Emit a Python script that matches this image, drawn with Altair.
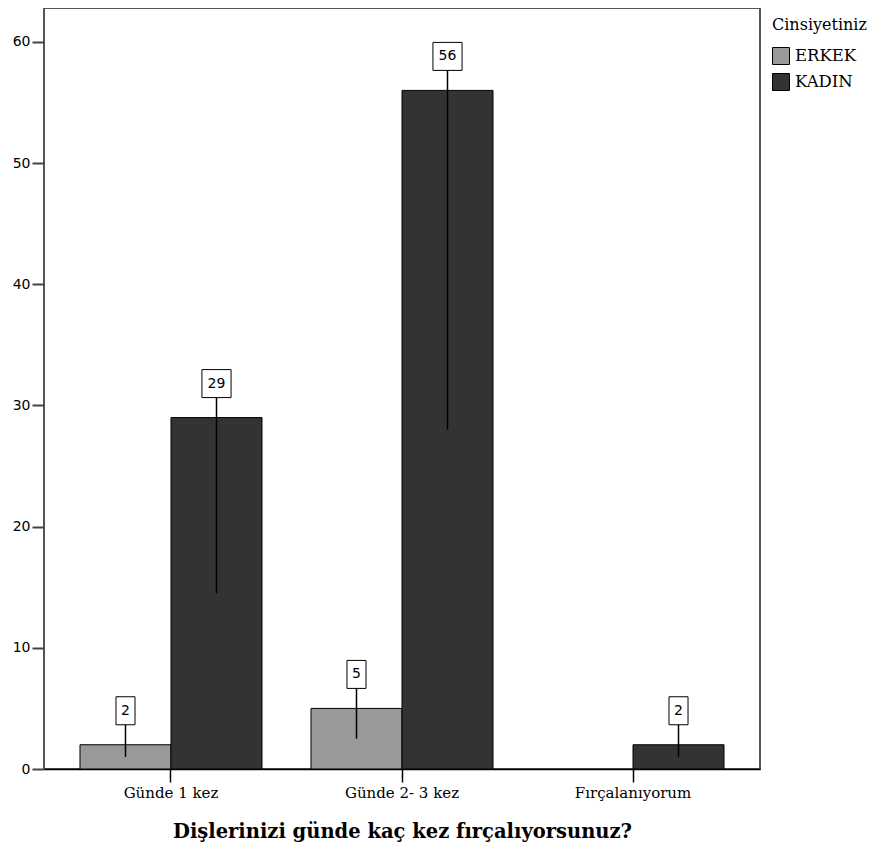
import altair as alt
import pandas as pd

categories = ["Günde 1 kez", "Günde 2- 3 kez", "Fırçalanıyorum"]
genders = ["ERKEK", "KADIN"]
erkek_values = [2, 5, None]
kadin_values = [29, 56, 2]
colors = ["#999999", "#333333"]
y_ticks = [0, 10, 20, 30, 40, 50, 60]

rows = []
for cat, e, k in zip(categories, erkek_values, kadin_values):
    for g, v in zip(genders, [e, k]):
        if v is not None:
            rows.append({"cat": cat, "gender": g, "value": v})
df = pd.DataFrame(rows)
df["half"] = df["value"] / 2
df["digits"] = df["value"].astype(int).astype(str).str.len().astype(str)

box1 = "M-0.68,-1L0.68,-1L0.68,1L-0.68,1Z"
box2 = "M-1.04,-1L1.04,-1L1.04,1L-1.04,1Z"
LABEL_OFF = -34

x = alt.X(
    "cat:N",
    sort=categories,
    scale=alt.Scale(paddingInner=0.2121, paddingOuter=0.1558),
    axis=alt.Axis(
        title="Dişlerinizi günde kaç kez fırçalıyorsunuz?",
        labelAngle=0,
        labelFont="DejaVu Serif",
        labelFontSize=15,
        labelColor="black",
        labelPadding=3,
        tickSize=13,
        tickColor="black",
        tickWidth=1.5,
        domainColor="black",
        domainWidth=1.5,
        titleFont="DejaVu Serif",
        titleFontSize=19.5,
        titleFontWeight="bold",
        titleColor="black",
        titlePadding=22,
    ),
)
xoff = alt.XOffset(
    "gender:N",
    sort=genders,
    scale=alt.Scale(domain=genders, paddingInner=0, paddingOuter=0),
)
y = alt.Y(
    "value:Q",
    scale=alt.Scale(domain=[0, 62.8], nice=False),
    axis=alt.Axis(
        title=None,
        values=y_ticks,
        grid=False,
        domain=False,
        labelFont="DejaVu Sans",
        labelFontSize=14,
        labelColor="black",
        labelPadding=2,
        tickSize=12,
        tickColor="#444444",
        tickWidth=2,
    ),
)

base = alt.Chart(df)

bars = base.mark_bar(stroke="black", strokeWidth=1).encode(
    x=x,
    xOffset=xoff,
    y=y,
    color=alt.Color(
        "gender:N",
        scale=alt.Scale(domain=genders, range=colors),
        legend=alt.Legend(
            title="Cinsiyetiniz",
            orient="none",
            legendX=728,
            legendY=9,
            titleFont="DejaVu Serif",
            titleFontSize=16,
            titleFontWeight="normal",
            titleColor="black",
            titlePadding=14,
            labelFont="DejaVu Serif",
            labelFontSize=16.5,
            labelColor="black",
            labelOffset=5,
            symbolType="square",
            symbolSize=289,
            symbolStrokeColor="black",
            symbolStrokeWidth=1,
            symbolOpacity=1,
            rowPadding=4,
            padding=0,
        ),
    ),
)

rules = base.mark_rule(color="black", strokeWidth=1.5, yOffset=LABEL_OFF).encode(
    x=x, xOffset=xoff, y=y, y2="half:Q"
)

boxes = base.mark_point(
    filled=True, fill="white", stroke="black", strokeWidth=1, opacity=1,
    size=784, yOffset=LABEL_OFF,
).encode(
    x=x,
    xOffset=xoff,
    y=y,
    shape=alt.Shape("digits:N", scale=alt.Scale(domain=["1", "2"], range=[box1, box2]), legend=None),
)

texts = base.mark_text(
    font="DejaVu Sans", fontSize=14, color="black", baseline="middle", align="center",
    yOffset=LABEL_OFF,
).encode(x=x, xOffset=xoff, y=y, text="value:Q")

chart = (
    alt.layer(bars, rules, boxes, texts)
    .properties(
        width=716,
        height=761,
        autosize=alt.AutoSizeParams(type="none"),
        padding={"left": 36, "top": 0, "right": 116, "bottom": 76},
    )
    .configure(background="white")
    .configure_view(stroke="#555555", strokeWidth=2)
)

chart.save("out.html", embed_options={"renderer": "svg", "actions": False})
